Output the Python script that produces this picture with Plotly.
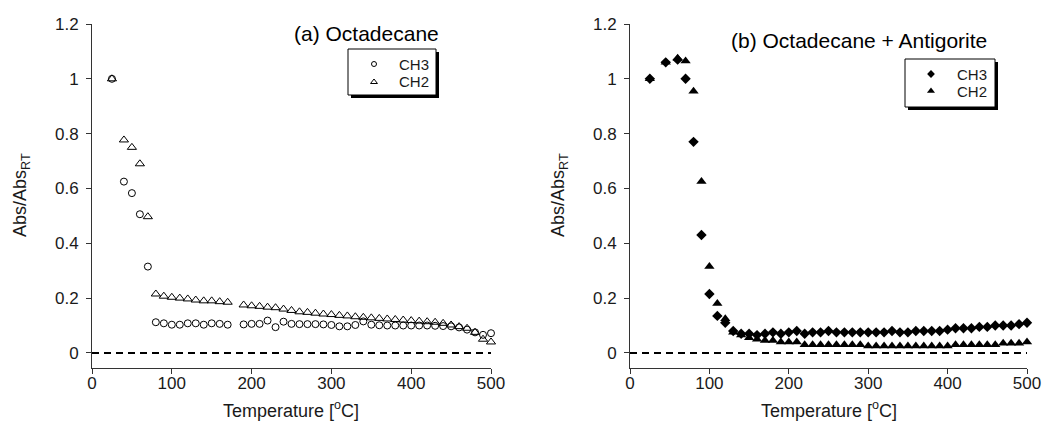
import plotly.graph_objects as go

# ---------------- data ----------------
temp_a = [25, 40, 50, 60, 70, 80, 90, 100, 110, 120, 130, 140, 150, 160, 170,
          190, 200, 210, 220, 230, 240, 250, 260, 270, 280, 290, 300, 310, 320,
          330, 340, 350, 360, 370, 380, 390, 400, 410, 420, 430, 440, 450, 460,
          470, 480, 490, 500]
ch3_a = [1.0, 0.625, 0.583, 0.506, 0.315, 0.112, 0.108, 0.103, 0.103, 0.108,
         0.108, 0.103, 0.108, 0.106, 0.103,
         0.104, 0.106, 0.106, 0.118, 0.094, 0.114, 0.106, 0.105, 0.105, 0.105,
         0.104, 0.102, 0.097, 0.097, 0.102, 0.115, 0.103, 0.101, 0.100, 0.100,
         0.100, 0.100, 0.100, 0.100, 0.099, 0.098, 0.097, 0.093, 0.085, 0.075,
         0.066, 0.072]
ch2_a = [1.0, 0.777, 0.750, 0.690, 0.497, 0.215, 0.207, 0.203, 0.200, 0.197,
         0.193, 0.190, 0.190, 0.187, 0.185,
         0.175, 0.172, 0.170, 0.167, 0.165, 0.160, 0.155, 0.150, 0.148, 0.145,
         0.142, 0.140, 0.137, 0.135, 0.132, 0.130, 0.128, 0.126, 0.124, 0.122,
         0.120, 0.118, 0.116, 0.114, 0.112, 0.108, 0.102, 0.096, 0.090, 0.075,
         0.050, 0.040]

temp_b = [25, 45, 60, 70, 80, 90, 100, 110, 120, 130, 140, 150, 160, 170, 180,
          190, 200, 210, 220, 230, 240, 250, 260, 270, 280, 290, 300, 310, 320,
          330, 340, 350, 360, 370, 380, 390, 400, 410, 420, 430, 440, 450, 460,
          470, 480, 490, 500]
ch3_b = [1.0, 1.06, 1.07, 1.0, 0.77, 0.43, 0.215, 0.135, 0.11, 0.08, 0.07,
         0.07, 0.065, 0.07, 0.075, 0.07, 0.075, 0.08, 0.07, 0.075, 0.075, 0.08,
         0.075, 0.075, 0.075, 0.075, 0.075, 0.075, 0.075, 0.08, 0.075, 0.075,
         0.08, 0.08, 0.08, 0.08, 0.085, 0.09, 0.09, 0.09, 0.095, 0.095, 0.10,
         0.10, 0.10, 0.105, 0.11]
ch2_b = [1.0, 1.06, 1.075, 1.065, 0.955, 0.625, 0.315, 0.18, 0.125, 0.075,
         0.065, 0.055, 0.05, 0.045, 0.045, 0.04, 0.04, 0.04, 0.03, 0.03, 0.03,
         0.03, 0.03, 0.03, 0.03, 0.03, 0.025, 0.025, 0.025, 0.025, 0.025, 0.025,
         0.025, 0.025, 0.025, 0.025, 0.025, 0.03, 0.03, 0.03, 0.03, 0.03, 0.03,
         0.035, 0.035, 0.035, 0.04]

x_ticks = [0, 100, 200, 300, 400, 500]
y_ticks = [0, 0.2, 0.4, 0.6, 0.8, 1.0, 1.2]
y_tick_text = ["0", "0.2", "0.4", "0.6", "0.8", "1", "1.2"]
zero_line = (0, 500, 0)
titles = ["(a) Octadecane", "(b) Octadecane + Antigorite"]
series_names = ["CH3", "CH2"]

# ---------------- figure ----------------
W, H = 1045, 421
FONT = "Liberation Sans, Arial, sans-serif"
INK = "#1a1a1a"
CLEAR = "rgba(0,0,0,0)"

sym_a = [dict(symbol="circle-open", size=7, color="black", line=dict(width=1, color="black")),
         dict(symbol="triangle-up-open", size=8, color="black", line=dict(width=1, color="black"))]
sym_b = [dict(symbol="diamond", size=8, color="black"),
         dict(symbol="triangle-up", size=9, color="black")]

fig = go.Figure()

for name, ys, mk in zip(series_names, (ch3_a, ch2_a), sym_a):
    fig.add_trace(go.Scatter(x=temp_a, y=ys, mode="markers", name=name, marker=mk,
                             cliponaxis=False, xaxis="x", yaxis="y", showlegend=False))
for name, ys, mk in zip(series_names, (ch3_b, ch2_b), sym_b):
    fig.add_trace(go.Scatter(x=temp_b, y=ys, mode="markers", name=name, marker=mk,
                             cliponaxis=False, xaxis="x2", yaxis="y2", showlegend=False))

def px_x(p):
    return p / W

def px_y(p):
    return 1 - p / H

ydom = [px_y(368), px_y(24)]
xdom1 = [px_x(92), px_x(491)]
xdom2 = [px_x(630), px_x(1027)]

axis_common = dict(showline=True, linecolor="#333", linewidth=1, ticks="outside",
                   ticklen=5, tickcolor="#333", showgrid=False, zeroline=False,
                   automargin=False,
                   tickfont=dict(family=FONT, size=17, color=INK))

xa = dict(axis_common, range=[0, 500], tickvals=x_ticks, ticklabelstandoff=-5)
ya = dict(axis_common, range=[-0.055, 1.2], tickvals=y_ticks, ticktext=y_tick_text,
          domain=ydom, ticklabelstandoff=4)

# overlay pixel-space axes for the hand-drawn legend glyphs
overlay = dict(domain=[0, 1], visible=False, fixedrange=True,
               showgrid=False, zeroline=False)

fig.update_layout(
    width=W, height=H, autosize=False,
    margin=dict(l=0, r=0, t=0, b=0),
    paper_bgcolor="white", plot_bgcolor=CLEAR,
    showlegend=False,
    xaxis=dict(xa, domain=xdom1, anchor="y"),
    yaxis=dict(ya, anchor="x"),
    xaxis2=dict(xa, domain=xdom2, anchor="y2"),
    yaxis2=dict(ya, anchor="x2"),
    xaxis3=dict(overlay, range=[0, W], anchor="y3"),
    yaxis3=dict(overlay, range=[H, 0], anchor="x3"),
)

# dashed zero reference lines
for xr, yr in (("x", "y"), ("x2", "y2")):
    fig.add_shape(type="line", xref=xr, yref=yr, x0=zero_line[0], x1=zero_line[1],
                  y0=zero_line[2], y1=zero_line[2],
                  line=dict(color="black", width=2, dash="7px,5px"), layer="below")

# legend boxes: (left, top, right, bottom, glyph x, text x, row y's, symbols)
legend_boxes = [
    (348, 49, 436, 95, 374, 397, (64, 82), sym_a),
    (905, 59, 995, 107, 931, 955, (74, 91), sym_b),
]
for (l, t, r, b, gx, tx, rows, syms) in legend_boxes:
    fig.add_shape(type="rect", xref="paper", yref="paper",
                  x0=px_x(l + 3), x1=px_x(r + 3), y0=px_y(b + 3), y1=px_y(t + 3),
                  fillcolor="black", line=dict(width=0), layer="below")
    fig.add_shape(type="rect", xref="paper", yref="paper",
                  x0=px_x(l), x1=px_x(r), y0=px_y(b), y1=px_y(t),
                  fillcolor="white", line=dict(width=1, color="black"), layer="below")
    for name, ry, mk in zip(series_names, rows, syms):
        mk2 = dict(mk)
        mk2["size"] = mk["size"] - 2
        fig.add_trace(go.Scatter(x=[gx], y=[ry], mode="markers", marker=mk2,
                                 xaxis="x3", yaxis="y3", showlegend=False,
                                 hoverinfo="skip", cliponaxis=False))
        fig.add_annotation(text=name, x=px_x(tx), y=px_y(ry), xref="paper", yref="paper",
                           xanchor="left", yanchor="middle", showarrow=False,
                           font=dict(family=FONT, size=15, color=INK))

# titles
fig.add_annotation(text=titles[0], x=px_x(292), y=px_y(33), xref="paper", yref="paper",
                   xanchor="left", yanchor="middle", showarrow=False,
                   font=dict(family=FONT, size=21, color="black"))
fig.add_annotation(text=titles[1], x=px_x(729), y=px_y(41), xref="paper", yref="paper",
                   xanchor="left", yanchor="middle", showarrow=False,
                   font=dict(family=FONT, size=21, color="black"))

# axis titles
for cx in (291, 829):
    fig.add_annotation(text="Temperature [<sup>o</sup>C]", x=px_x(cx), y=px_y(409),
                       xref="paper", yref="paper", xanchor="center", yanchor="middle",
                       showarrow=False, font=dict(family=FONT, size=18, color=INK))
for cx in (21, 559):
    fig.add_annotation(text="Abs/Abs<sub>RT</sub>", x=px_x(cx), y=px_y(195),
                       xref="paper", yref="paper", xanchor="center", yanchor="middle",
                       textangle=-90, showarrow=False,
                       font=dict(family=FONT, size=18, color=INK))

fig.write_html("out.html")
